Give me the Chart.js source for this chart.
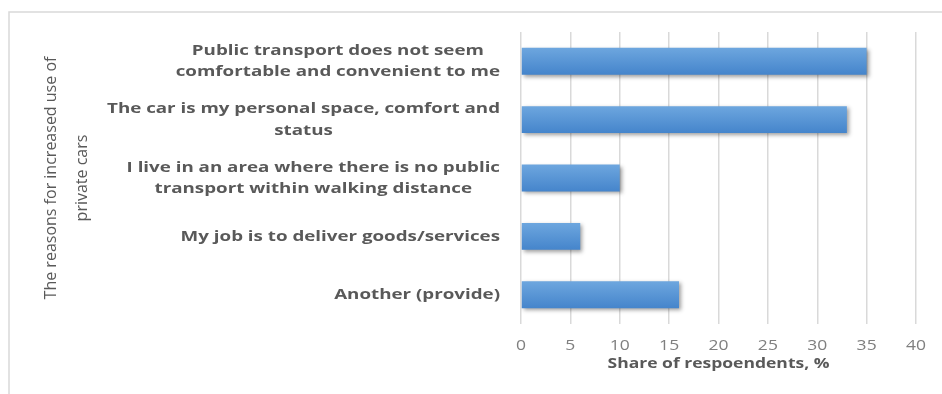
<!DOCTYPE html>
<html>
<head>
<meta charset="utf-8">
<script src="https://cdn.jsdelivr.net/npm/chart.js@4.4.1/dist/chart.umd.min.js"></script>
<style>
  html, body { margin: 0; padding: 0; background: #ffffff; }
  canvas { display: block; }
</style>
</head>
<body>
<canvas id="c" width="942" height="394"></canvas>
<script>
// ---- data ----
const categories = [
  ["Public transport does not seem", "comfortable and convenient to me"],
  ["The car is my personal space, comfort and", "status"],
  ["I live in an area where there is no public", "transport within walking distance"],
  ["My job is to deliver goods/services"],
  ["Another (provide)"]
];
const shares = [35, 33, 10, 6, 16];
const xMin = 0, xMax = 40, xStep = 5;
const xAxisTitle = "Share of respoendents, %";
const yAxisTitle = ["The reasons for increased use of", "private cars"];

// the reference text is horizontally widened
const STRETCH = 1.25;

function drawWide(ctx, text, xc, yc) {
  ctx.save();
  ctx.translate(xc, yc);
  ctx.scale(STRETCH, 1);
  ctx.textAlign = 'center';
  ctx.textBaseline = 'middle';
  ctx.fillText(text, 0, 0);
  ctx.restore();
}

// ---- plugins ----
const framePlugin = {
  id: 'frame',
  beforeDraw(chart) {
    const ctx = chart.ctx;
    ctx.save();
    ctx.fillStyle = '#ffffff';
    ctx.fillRect(0, 0, chart.width, chart.height);
    ctx.strokeStyle = '#d9d9d9';
    ctx.lineWidth = 1.5;
    ctx.beginPath();
    ctx.moveTo(9, chart.height);
    ctx.lineTo(9, 12);
    ctx.lineTo(chart.width, 12);
    ctx.stroke();
    ctx.restore();
  }
};

const shadowPlugin = {
  id: 'barShadow',
  beforeDatasetsDraw(chart) {
    const ctx = chart.ctx;
    ctx.save();
    ctx.shadowColor = 'rgba(0,0,0,0.38)';
    ctx.shadowBlur = 4;
    ctx.shadowOffsetX = 2;
    ctx.shadowOffsetY = 2;
  },
  afterDatasetsDraw(chart) {
    chart.ctx.restore();
  }
};

const textPlugin = {
  id: 'wideText',
  afterDraw(chart) {
    const ctx = chart.ctx;
    const ys = chart.scales.y;
    const xs = chart.scales.x;
    const area = chart.chartArea;
    ctx.save();
    // category labels: block right-aligned, lines centred in the block
    ctx.font = 'bold 15px "Open Sans"';
    ctx.fillStyle = '#595959';
    const right = area.left - 21;
    const lh = 21.5;
    categories.forEach((lines, i) => {
      const yc = ys.getPixelForValue(i);
      const w = STRETCH * Math.max(...lines.map(l => ctx.measureText(l).width));
      const xc = right - w / 2;
      lines.forEach((line, j) => {
        drawWide(ctx, line, xc, yc + (j - (lines.length - 1) / 2) * lh);
      });
    });
    // x tick labels
    ctx.font = '14px "Open Sans"';
    ctx.fillStyle = '#7f7f7f';
    xs.ticks.forEach(t => {
      drawWide(ctx, String(t.value), xs.getPixelForValue(t.value), area.bottom + 22.5);
    });
    // x axis title
    ctx.font = 'bold 14px "Open Sans"';
    ctx.fillStyle = '#595959';
    drawWide(ctx, xAxisTitle, (area.left + area.right) / 2, area.bottom + 40.5);
    ctx.restore();
  }
};

function barFill(context) {
  const chart = context.chart;
  const ys = chart.scales && chart.scales.y;
  if (!chart.chartArea || !ys) return '#5b9bd5';
  const yc = ys.getPixelForValue(context.dataIndex);
  const h = 14;
  const g = chart.ctx.createLinearGradient(0, yc - h, 0, yc + h);
  g.addColorStop(0, '#6ea7df');
  g.addColorStop(1, '#4484cb');
  return g;
}

new Chart(document.getElementById('c'), {
  type: 'bar',
  data: {
    labels: categories,
    datasets: [{
      data: shares,
      backgroundColor: barFill,
      borderWidth: 0,
      barPercentage: 0.46,
      categoryPercentage: 1.0
    }]
  },
  options: {
    indexAxis: 'y',
    responsive: false,
    devicePixelRatio: 1,
    animation: false,
    layout: { padding: { top: 32, right: 26, bottom: 0, left: 0 } },
    plugins: { legend: { display: false }, tooltip: { enabled: false } },
    scales: {
      x: {
        min: xMin, max: xMax,
        ticks: { stepSize: xStep, display: false },
        grid: { color: '#d9d9d9', lineWidth: 1.5, drawTicks: false },
        border: { display: false },
        title: { display: false, text: xAxisTitle },
        afterFit(scale) { scale.height = 70; }
      },
      y: {
        ticks: { display: false },
        grid: { display: false },
        border: { display: false },
        title: {
          display: true,
          text: yAxisTitle,
          color: '#595959',
          font: { family: 'Open Sans', size: 16, lineHeight: 1.95 },
          padding: { top: 36, bottom: 0 }
        },
        afterFit(scale) { scale.width = 521; }
      }
    }
  },
  plugins: [framePlugin, shadowPlugin, textPlugin]
});
</script>
</body>
</html>
